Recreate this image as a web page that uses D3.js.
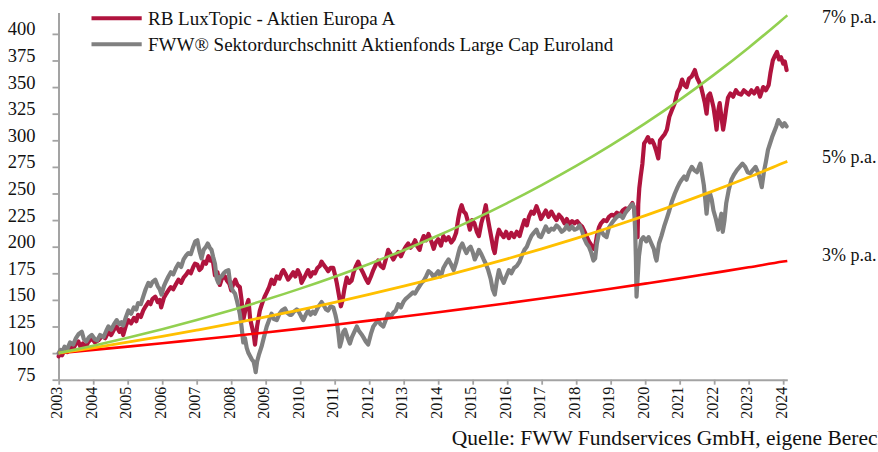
<!DOCTYPE html>
<html>
<head>
<meta charset="utf-8">
<script src="https://cdn.jsdelivr.net/npm/d3@7/dist/d3.min.js"></script>
<style>
  html, body { margin: 0; padding: 0; background: #ffffff; }
  svg { display: block; }
  text { font-family: "Liberation Serif", "DejaVu Serif", serif; fill: #111; }
</style>
</head>
<body>
<svg id="chart" width="878" height="452"></svg>
<script>
// ---------- DATA ----------
const seriesNames = ["RB LuxTopic - Aktien Europa A", "FWW® Sektordurchschnitt Aktienfonds Large Cap Euroland"];
const yearLabels = ["2003","2004","2005","2006","2007","2008","2009","2010","2011","2012","2013","2014","2015","2016","2017","2018","2019","2020","2021","2022","2023","2024"];
const yTickValues = [75,100,125,150,175,200,225,250,275,300,325,350,375,400];
const growthLabels = ["7% p.a.", "5% p.a.", "3% p.a."];

// [position on time axis (years), indexed value]
const fundSeries = [
[2003.00,97],[2003.05,100],[2003.10,98],[2003.17,103],[2003.25,101],[2003.33,106],[2003.42,104],[2003.50,109],[2003.57,111],[2003.63,106],[2003.70,109],[2003.78,105],[2003.85,110],[2003.96,114],
[2004.05,110],[2004.15,112],[2004.25,116],[2004.35,114],[2004.44,120],[2004.52,117],[2004.60,122],[2004.68,125],[2004.76,120],[2004.82,123],[2004.87,117],[2004.95,126],
[2005.02,131],[2005.10,128],[2005.18,133],[2005.25,130],[2005.30,136],[2005.38,134],[2005.45,140],[2005.52,144],[2005.60,148],[2005.66,146],[2005.72,151],[2005.80,153],[2005.87,148],[2005.93,150],[2005.97,143],
[2006.05,152],[2006.12,156],[2006.18,159],[2006.25,162],[2006.32,160],[2006.40,165],[2006.47,169],[2006.55,166],[2006.62,171],[2006.70,174],[2006.76,177],[2006.83,175],[2006.90,181],[2006.95,184],
[2007.02,183],[2007.08,178],[2007.14,180],[2007.20,186],[2007.27,184],[2007.34,191],[2007.40,187],[2007.46,189],[2007.53,173],[2007.60,176],[2007.67,164],[2007.73,170],[2007.82,172],[2007.88,168],[2007.95,165],
[2008.00,159],[2008.06,165],[2008.12,169],[2008.18,164],[2008.25,162],[2008.30,150],[2008.35,131],[2008.42,142],[2008.50,150],[2008.55,132],[2008.60,125],[2008.65,118],[2008.69,108],[2008.75,125],[2008.83,140],[2008.90,147],[2008.97,153],
[2009.03,157],[2009.10,162],[2009.17,169],[2009.24,165],[2009.32,172],[2009.40,170],[2009.47,176],[2009.51,178],[2009.58,174],[2009.65,169],[2009.72,172],[2009.80,176],[2009.86,172],[2009.93,178],
[2010.00,173],[2010.04,166],[2010.12,171],[2010.18,175],[2010.23,178],[2010.30,172],[2010.37,176],[2010.43,175],[2010.50,180],[2010.57,182],[2010.62,186],[2010.68,183],[2010.75,180],[2010.81,177],[2010.88,180],[2010.96,180],
[2011.02,172],[2011.06,166],[2011.12,155],[2011.18,144],[2011.23,150],[2011.28,160],[2011.35,171],[2011.42,166],[2011.49,168],[2011.55,176],[2011.62,182],[2011.68,186],[2011.75,180],[2011.83,175],[2011.90,170],[2011.97,166],
[2012.05,172],[2012.12,178],[2012.19,183],[2012.26,187],[2012.33,182],[2012.41,180],[2012.48,188],[2012.55,197],[2012.62,193],[2012.70,188],[2012.77,192],[2012.84,195],[2012.92,191],[2012.99,196],
[2013.06,200],[2013.13,203],[2013.20,199],[2013.27,202],[2013.33,206],[2013.40,200],[2013.46,197],[2013.52,205],[2013.58,210],[2013.65,206],[2013.72,212],[2013.80,205],[2013.87,198],[2013.93,204],
[2014.00,207],[2014.08,201],[2014.15,210],[2014.22,206],[2014.30,209],[2014.38,204],[2014.45,207],[2014.52,213],[2014.58,226],[2014.63,234],[2014.68,239],[2014.74,233],[2014.80,231],[2014.86,224],[2014.92,216],[2014.98,225],
[2015.05,222],[2015.12,214],[2015.18,210],[2015.25,222],[2015.32,230],[2015.38,239],[2015.43,228],[2015.48,219],[2015.55,207],[2015.60,198],[2015.64,194],[2015.70,208],[2015.76,216],[2015.83,212],[2015.90,209],[2015.97,214],
[2016.05,208],[2016.12,213],[2016.20,209],[2016.28,214],[2016.36,210],[2016.43,218],[2016.50,225],[2016.57,220],[2016.63,228],[2016.70,233],[2016.77,231],[2016.85,238],[2016.92,232],[2016.98,226],
[2017.05,230],[2017.12,234],[2017.20,228],[2017.28,233],[2017.35,229],[2017.43,225],[2017.50,230],[2017.58,227],[2017.66,222],[2017.73,226],[2017.80,221],[2017.88,224],[2017.95,222],
[2018.03,224],[2018.10,221],[2018.17,219],[2018.23,215],[2018.30,210],[2018.37,205],[2018.43,202],[2018.50,198],[2018.55,200],[2018.60,210],[2018.66,218],[2018.72,222],[2018.80,225],[2018.88,224],[2018.95,228],
[2019.03,230],[2019.10,229],[2019.18,232],[2019.27,230],[2019.35,234],[2019.43,236],[2019.50,235],[2019.57,238],[2019.63,241],[2019.68,236],[2019.72,225],[2019.76,212],[2019.78,209],[2019.80,240],[2019.83,255],[2019.87,266],[2019.92,278],[2019.97,297],
[2020.03,300],[2020.08,303],[2020.14,298],[2020.20,300],[2020.26,296],[2020.32,290],[2020.38,283],[2020.43,300],[2020.50,303],[2020.57,306],[2020.63,310],[2020.70,322],[2020.77,328],[2020.86,335],[2020.93,345],
[2021.00,349],[2021.07,357],[2021.13,352],[2021.20,350],[2021.27,358],[2021.35,360],[2021.44,366],[2021.50,359],[2021.56,355],[2021.62,350],[2021.68,342],[2021.73,335],[2021.78,325],[2021.83,342],[2021.88,344],[2021.93,338],[2021.98,331],
[2022.03,320],[2022.07,310],[2022.12,328],[2022.16,335],[2022.21,322],[2022.26,310],[2022.30,318],[2022.35,330],[2022.40,340],[2022.47,344],[2022.55,341],[2022.63,347],[2022.70,344],[2022.78,343],[2022.86,347],[2022.93,345],
[2023.00,343],[2023.08,347],[2023.16,344],[2023.25,349],[2023.33,341],[2023.42,350],[2023.50,347],[2023.58,352],[2023.63,363],[2023.70,375],[2023.77,380],[2023.82,383],[2023.88,376],[2023.94,378],
[2024.00,372],[2024.05,374],[2024.10,366]
];

const sectorSeries = [
[2003.00,100],[2003.05,103],[2003.10,101],[2003.17,106],[2003.25,104],[2003.33,110],[2003.42,108],[2003.50,114],[2003.58,118],[2003.67,120],[2003.73,113],[2003.80,111],[2003.88,115],[2003.96,117],
[2004.05,113],[2004.12,112],[2004.20,117],[2004.30,115],[2004.38,121],[2004.44,125],[2004.52,122],[2004.60,127],[2004.68,131],[2004.76,127],[2004.82,129],[2004.87,126],[2004.95,134],
[2005.02,140],[2005.10,137],[2005.18,143],[2005.25,141],[2005.30,147],[2005.38,146],[2005.45,153],[2005.52,160],[2005.60,166],[2005.66,163],[2005.72,167],[2005.80,169],[2005.87,163],[2005.93,160],[2005.98,155],
[2006.05,163],[2006.12,168],[2006.18,172],[2006.25,176],[2006.32,174],[2006.40,180],[2006.47,184],[2006.55,181],[2006.62,188],[2006.70,192],[2006.76,194],[2006.83,193],[2006.90,200],[2006.96,205],
[2007.02,206],[2007.08,196],[2007.14,189],[2007.20,197],[2007.27,200],[2007.32,203],[2007.38,199],[2007.43,197],[2007.48,190],[2007.53,184],[2007.58,170],[2007.63,166],[2007.68,172],[2007.72,172],[2007.78,175],[2007.85,177],[2007.92,178],[2007.96,168],
[2008.00,162],[2008.06,158],[2008.11,156],[2008.16,150],[2008.21,143],[2008.25,137],[2008.30,125],[2008.35,110],[2008.40,114],[2008.45,105],[2008.50,100],[2008.55,97],[2008.60,94],[2008.65,92],[2008.69,86],[2008.71,82],[2008.75,92],[2008.80,98],[2008.88,106],[2008.95,115],
[2009.03,125],[2009.10,131],[2009.17,137],[2009.24,132],[2009.32,131],[2009.40,137],[2009.47,140],[2009.56,142],[2009.62,138],[2009.70,136],[2009.75,136],[2009.82,139],[2009.90,141],[2009.94,140],
[2010.02,135],[2010.09,131],[2010.16,136],[2010.23,140],[2010.30,136],[2010.37,139],[2010.43,137],[2010.50,142],[2010.56,145],[2010.62,148],[2010.68,145],[2010.75,141],[2010.81,140],[2010.88,144],[2010.96,143],
[2011.02,136],[2011.06,130],[2011.11,118],[2011.15,106],[2011.20,112],[2011.25,120],[2011.30,122],[2011.37,115],[2011.44,109],[2011.50,115],[2011.57,120],[2011.64,125],[2011.70,121],[2011.77,118],[2011.83,115],[2011.90,111],[2011.97,108],
[2012.05,118],[2012.12,125],[2012.19,128],[2012.26,131],[2012.33,127],[2012.41,125],[2012.48,131],[2012.55,137],[2012.62,134],[2012.70,138],[2012.77,140],[2012.84,146],[2012.92,143],[2012.99,148],
[2013.06,151],[2013.13,153],[2013.20,155],[2013.27,157],[2013.33,156],[2013.40,160],[2013.46,163],[2013.52,166],[2013.58,168],[2013.65,172],[2013.72,177],[2013.80,175],[2013.87,171],[2013.93,174],
[2014.00,177],[2014.08,172],[2014.15,180],[2014.22,184],[2014.30,188],[2014.38,183],[2014.45,178],[2014.52,185],[2014.58,193],[2014.63,199],[2014.70,203],[2014.76,198],[2014.82,194],[2014.88,198],[2014.94,200],
[2015.00,195],[2015.06,188],[2015.12,192],[2015.18,197],[2015.25,193],[2015.32,188],[2015.38,184],[2015.45,178],[2015.52,170],[2015.58,160],[2015.64,155],[2015.70,168],[2015.76,178],[2015.83,171],[2015.90,166],[2015.97,172],
[2016.05,178],[2016.12,175],[2016.20,180],[2016.28,182],[2016.36,186],[2016.43,192],[2016.50,197],[2016.57,200],[2016.63,205],[2016.70,210],[2016.77,213],[2016.85,216],[2016.92,210],[2016.98,209],
[2017.05,214],[2017.12,219],[2017.20,214],[2017.28,217],[2017.35,216],[2017.43,220],[2017.50,218],[2017.58,214],[2017.66,216],[2017.73,220],[2017.80,216],[2017.88,219],[2017.95,216],
[2018.03,217],[2018.10,220],[2018.17,215],[2018.23,208],[2018.30,203],[2018.37,200],[2018.43,195],[2018.50,187],[2018.55,189],[2018.60,203],[2018.66,213],[2018.72,215],[2018.80,211],[2018.88,209],[2018.95,218],
[2019.03,222],[2019.10,225],[2019.18,228],[2019.27,230],[2019.35,227],[2019.43,232],[2019.50,235],[2019.57,238],[2019.63,240],[2019.68,236],[2019.71,215],[2019.73,190],[2019.75,153],[2019.78,170],[2019.82,191],[2019.88,206],[2019.95,209],
[2020.03,205],[2020.10,209],[2020.18,203],[2020.25,198],[2020.30,190],[2020.33,187],[2020.40,203],[2020.47,210],[2020.55,219],[2020.62,226],[2020.70,234],[2020.78,243],[2020.86,250],[2020.94,256],
[2021.00,260],[2021.06,263],[2021.13,266],[2021.20,263],[2021.27,270],[2021.35,275],[2021.42,272],[2021.50,270],[2021.56,275],[2021.60,278],[2021.65,268],[2021.70,258],[2021.74,245],[2021.78,231],[2021.83,248],[2021.88,250],[2021.93,244],[2021.98,234],
[2022.05,226],[2022.12,216],[2022.17,225],[2022.21,231],[2022.25,214],[2022.30,225],[2022.35,241],[2022.42,253],[2022.50,263],[2022.58,268],[2022.66,272],[2022.74,275],[2022.82,278],[2022.90,275],[2022.97,270],
[2023.05,269],[2023.12,272],[2023.20,275],[2023.28,269],[2023.34,262],[2023.38,256],[2023.44,270],[2023.50,280],[2023.56,291],[2023.62,297],[2023.68,303],[2023.74,308],[2023.80,313],[2023.86,319],[2023.92,316],[2023.98,313],
[2024.04,316],[2024.10,313]
];

// reference growth paths (value at each year mark, last point = end of data)
const growthYears = [2003,2004,2005,2006,2007,2008,2009,2010,2011,2012,2013,2014,2015,2016,2017,2018,2019,2020,2021,2022,2023,2024,2024.12];
const growth7 = [100,107,114.5,122.5,131.1,140.3,150.1,160.6,171.8,183.8,196.7,210.5,225.2,241.0,257.9,275.9,295.2,315.9,338.0,361.7,387.0,414.1,417.4];
const growth5 = [100,105,110.3,115.8,121.6,127.6,134.0,140.7,147.7,155.1,162.9,171.0,179.6,188.6,198.0,207.9,218.3,229.2,240.7,252.7,265.3,278.6,280.2];
const growth3 = [100,103,106.1,109.3,112.6,115.9,119.4,123.0,126.7,130.5,134.4,138.4,142.6,146.9,151.3,155.8,160.5,165.3,170.2,175.4,180.6,186.0,186.6];

// ---------- DRAW ----------
const svg = d3.select("#chart");
const x = d3.scaleLinear().domain([2003, 2024.12]).range([58.7, 787.3]);
const y = d3.scaleLinear().domain([75, 420]).range([379.7, 12.6]);
const axisColor = "#a3a3a3";

// Y axis
const gy = svg.append("g").attr("transform", "translate(58.5,0)")
  .call(d3.axisLeft(y).tickValues(yTickValues).tickSize(6).tickSizeOuter(0).tickPadding(17).tickFormat(d3.format("d")));
gy.select(".domain").attr("stroke", axisColor).attr("stroke-width", 2);
gy.selectAll(".tick line").attr("stroke", axisColor).attr("stroke-width", 1.8);
gy.selectAll(".tick text").attr("dy", "1").style("font-size", "18.5px").attr("fill", "#111")
  .style("font-family", '"Liberation Serif", serif');

// X axis
const gx = svg.append("g").attr("transform", "translate(0,379.7)")
  .call(d3.axisBottom(x).tickValues(yearLabels.map(Number)).tickSize(5).tickSizeOuter(0).tickFormat((d, i) => yearLabels[i]));
gx.select(".domain").attr("stroke", axisColor).attr("stroke-width", 2);
gx.selectAll(".tick line").attr("stroke", axisColor).attr("stroke-width", 1.8);
gx.selectAll(".tick text")
  .attr("transform", "rotate(-90)")
  .attr("text-anchor", "end")
  .attr("x", -7).attr("y", 0).attr("dy", "0.19em")
  .style("font-size", "16px").attr("fill", "#111")
  .style("font-family", '"Liberation Serif", serif');

const line = d3.line().x(d => x(d[0])).y(d => y(d[1]));

svg.append("path").datum(fundSeries).attr("d", line)
  .attr("fill", "none").attr("stroke", "#b0143e").attr("stroke-width", 4.2)
  .attr("stroke-linejoin", "round").attr("stroke-linecap", "round");
svg.append("path").datum(sectorSeries).attr("d", line)
  .attr("fill", "none").attr("stroke", "#808080").attr("stroke-width", 4.2)
  .attr("stroke-linejoin", "round").attr("stroke-linecap", "round");

const gline = d3.line().x(d => x(d[0])).y(d => y(d[1])).curve(d3.curveMonotoneX);
const growthSets = [
  {vals: growth3, color: "#ff0000", w: 2.6},
  {vals: growth5, color: "#ffc000", w: 2.8},
  {vals: growth7, color: "#92d050", w: 2.6}
];
growthSets.forEach(g => {
  svg.append("path").datum(growthYears.map((t, i) => [t, g.vals[i]])).attr("d", gline)
    .attr("fill", "none").attr("stroke", g.color).attr("stroke-width", g.w);
});

// Right-side labels
const growthLabelY = [23, 163, 261];
growthLabels.forEach((t, i) => {
  svg.append("text").attr("x", 822).attr("y", growthLabelY[i]).text(t).style("font-size", "18px");
});

// Legend
const legendColors = ["#b0143e", "#808080"];
const legendY = [18.3, 44.3];
seriesNames.forEach((n, i) => {
  svg.append("line").attr("x1", 91.5).attr("x2", 141.7).attr("y1", legendY[i]).attr("y2", legendY[i])
    .attr("stroke", legendColors[i]).attr("stroke-width", 4);
  svg.append("text").attr("x", 148).attr("y", legendY[i] + 7).text(n).style("font-size", "19px");
});

// Source
svg.append("text").attr("x", 451.7).attr("y", 445).text("Quelle: FWW Fundservices GmbH, eigene Berechnungen")
  .style("font-size", "21.5px");
</script>
</body>
</html>
